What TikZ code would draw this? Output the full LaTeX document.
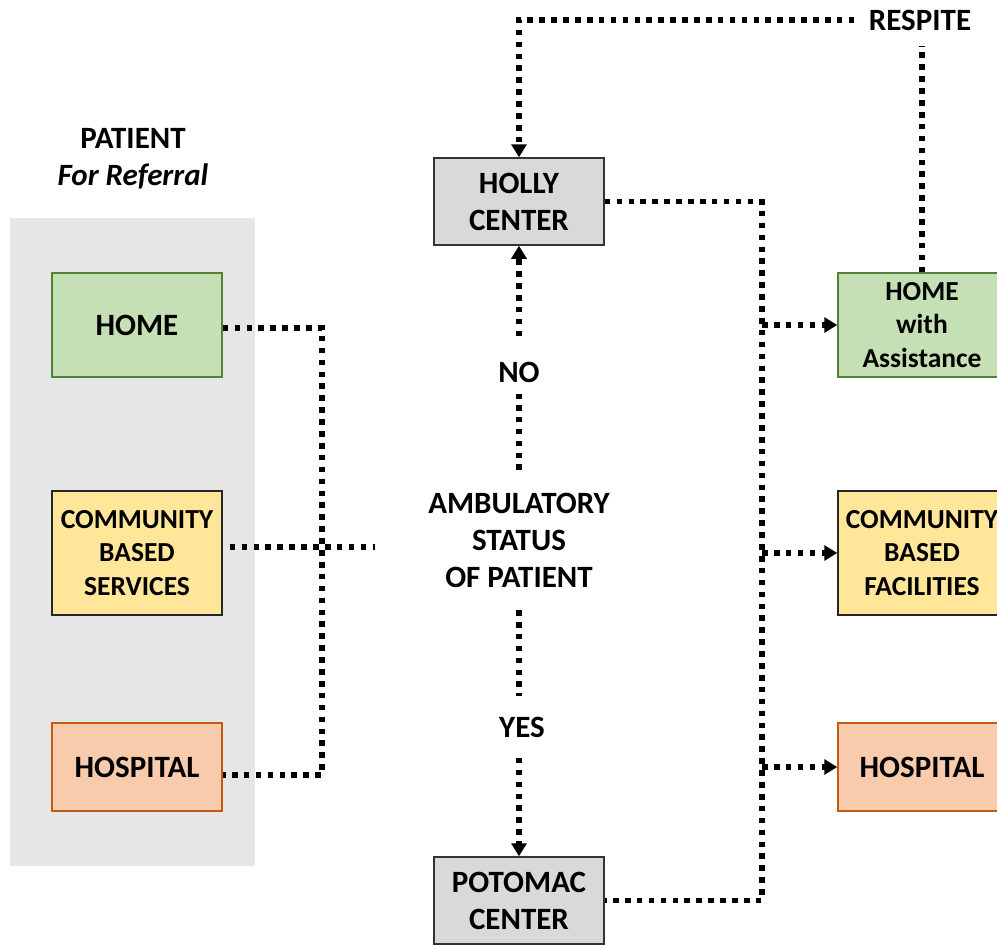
\documentclass[tikz,border=0pt]{standalone}
\usepackage{fontspec}
\setmainfont{Carlito}
\usetikzlibrary{arrows.meta}
\definecolor{bggray}{HTML}{E6E6E6}
\definecolor{greenfill}{HTML}{C5E0B4}
\definecolor{greenline}{HTML}{548235}
\definecolor{yellowfill}{HTML}{FFE699}
\definecolor{orangefill}{HTML}{F8CBAD}
\definecolor{orangeline}{HTML}{C55A11}
\definecolor{grayfill}{HTML}{D9D9D9}
\begin{document}
\begin{tikzpicture}[x=1pt,y=-1pt,
  big/.style={font=\bfseries\fontsize{31}{37}\selectfont, align=center},
  small/.style={font=\bfseries\fontsize{27.5}{33.5}\selectfont, align=center},
  box/.style={draw, line width=1.5pt, minimum width=170pt, inner sep=0pt},
  dl/.style={line width=5.2pt, dash pattern=on 5.6pt off 6.3pt, black},
  arr/.style={-{Triangle[length=13pt,width=15pt]}},
]
\useasboundingbox (0,0) rectangle (997,945);
\clip (0,0) rectangle (997,945);
\fill[bggray] (10,218) rectangle (255,866);

% titles and labels
\node[big] (patient) at (133,159) {PATIENT\\\textit{For Referral}};
\node[big] (amb) at (519,540) {AMBULATORY\\STATUS\\OF PATIENT};
\node[big] (no) at (519,372) {NO};
\node[big] (yes) at (522,727) {YES};
\node[big] (respite) at (920,20) {RESPITE};

% left boxes
\node[box, big, fill=greenfill, draw=greenline, minimum height=104pt] (lhome) at (137,325) {HOME};
\node[box, small, fill=yellowfill, draw=black!85, minimum height=124pt] (lcbs) at (137,553) {COMMUNITY\\BASED\\SERVICES};
\node[box, big, fill=orangefill, draw=orangeline, minimum height=88pt] (lhosp) at (137,767) {HOSPITAL};

% centre boxes
\node[box, big, fill=grayfill, draw=black!80, minimum height=87pt] (holly) at (519,201.5) {HOLLY\\CENTER};
\node[box, big, fill=grayfill, draw=black!80, minimum height=87pt] (potomac) at (519,900.5) {POTOMAC\\CENTER};

% right boxes
\node[box, small, fill=greenfill, draw=greenline, minimum width=168pt, minimum height=104pt] (hwa) at (922,325) {HOME\\with\\Assistance};
\node[box, small, fill=yellowfill, draw=black!85, minimum width=168pt, minimum height=124pt] (cbf) at (922,553) {COMMUNITY\\BASED\\FACILITIES};
\node[box, big, fill=orangefill, draw=orangeline, minimum width=168pt, minimum height=88pt] (rhosp) at (922,767) {HOSPITAL};

% helper coordinates
\coordinate (lt) at (322,328);
\coordinate (lb) at (322,775);
\coordinate (lc) at (375,547);
\coordinate (nos) at (519,470);
\coordinate (ys) at (519,610);
\coordinate (trunk) at (762,900.5);

% left connectors
\draw[dl] (lhome.east |- lt) -- (lt) -- (lb) -- (lhosp.east |- lb);
\draw[dl, shorten <=7pt] (lcbs.east |- lc) -- (lc);

% NO / YES
\draw[dl, shorten >=8pt] (nos) -- (no.south);
\draw[dl, arr, shorten <=22pt] (no.north) -- (holly.south);
\draw[dl, shorten >=17pt] (ys) -- (ys |- yes.north);
\draw[dl, arr, shorten <=17pt] (ys |- yes.south) -- (potomac.north);

% respite
\draw[dl, shorten >=12pt] (hwa.north) -- (hwa.north |- respite.south);
\draw[dl, arr, shorten <=11pt] (respite.west) -| (holly.north);

% right trunk
\draw[dl] (holly.east) -| (trunk) -- (potomac.east);
\draw[dl, arr] (trunk |- hwa.west) -- (hwa.west);
\draw[dl, arr] (trunk |- cbf.west) -- (cbf.west);
\draw[dl, arr] (trunk |- rhosp.west) -- (rhosp.west);
\end{tikzpicture}
\end{document}
